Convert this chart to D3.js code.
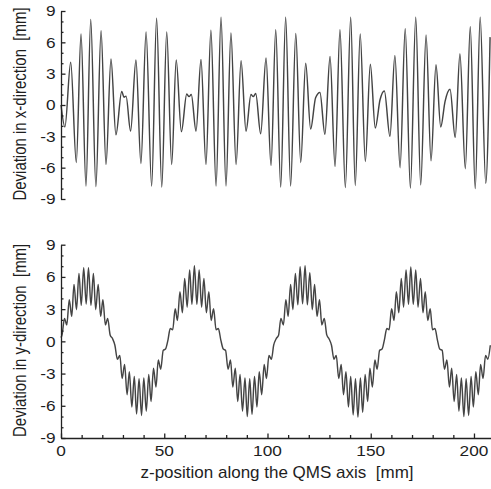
<!DOCTYPE html>
<html><head><meta charset="utf-8">
<script src="https://cdn.jsdelivr.net/npm/d3@7"></script>
<style>
body{margin:0;background:#fff}
svg{display:block}
text{font-family:"Liberation Sans",Arial,Helvetica,sans-serif;fill:#1e1e1e}
</style>
</head><body>
<svg id="c" width="491" height="489"></svg>
<script>
// ---- data ----
// top panel: deviation in x-direction (extrema along z, mm)
const topZ = [0,1.9,4.7,7.4,9.7,12.1,14.4,16.9,19.4,21.8,24.2,26.6,29.4,30.5,31.5,33.7,36.3,38.7,41.2,43.9,46.3,48.8,51.2,53.6,55.8,58.3,60.9,62.0,63.1,65.4,67.8,70.2,72.6,75.1,77.5,79.9,82.3,84.8,87.2,89.6,92.0,93.1,94.3,96.7,99.3,101.7,104.0,106.4,108.8,111.2,113.7,116.1,118.5,120.9,123.3,125.4,127.8,130.3,132.7,135.1,137.7,140.3,142.5,144.9,147.4,149.8,152.2,154.5,156.6,159.3,161.7,164.2,166.7,169.2,171.8,174.2,176.8,179.2,181.6,183.9,186.0,188.4,190.9,193.2,195.8,198.2,200.6,203.0,205.7,207.8];
const topV = [0.0,-2.1,4.1,-5.5,6.8,-7.75,8.2,-7.8,7.1,-5.7,4.4,-2.85,1.3,0.75,0.85,-2.5,4.3,-5.6,7.0,-7.75,8.3,-7.85,7.0,-5.7,4.3,-2.55,1.05,0.8,1.0,-2.5,4.35,-5.7,7.15,-7.75,8.4,-7.75,6.9,-5.7,4.25,-2.5,1.0,0.8,1.1,-2.75,4.5,-5.8,7.2,-7.85,8.4,-7.75,6.85,-5.5,4.0,-2.3,0.7,1.2,-2.8,4.65,-5.9,7.2,-7.9,8.4,-7.7,6.8,-5.4,3.9,-2.2,0.5,1.35,-3.0,4.75,-6.0,7.3,-7.95,8.4,-7.65,6.7,-5.35,3.85,-2.1,0.35,1.5,-3.1,4.9,-6.1,7.5,-8.0,8.4,-7.5,6.5];

// bottom panel: deviation in y-direction
const botZ = [0,0.5,1.7,2.8,4.0,5.2,6.3,7.5,8.7,9.8,11.0,12.2,13.3,14.5,15.7,16.8,18.0,19.2,20.3,21.5,22.6,23.8,25.0,26.1,27.3,28.5,29.6,30.8,32.0,33.1,34.3,35.5,36.6,37.8,39.0,40.1,41.3,42.5,43.6,44.8,46.0,47.1,48.3,49.5,50.6,51.8,52.9,54.1,55.3,56.4,57.6,58.8,59.9,61.1,62.3,63.4,64.6,65.8,66.9,68.1,69.2,70.4,71.6,72.7,73.9,75.1,76.2,77.4,78.6,79.7,80.9,82.1,83.2,84.4,85.6,86.7,87.9,89.1,90.2,91.4,92.5,93.7,94.9,96.0,97.2,98.4,99.5,100.7,101.9,103.0,104.2,105.4,106.5,107.7,108.9,110.0,111.2,112.3,113.5,114.7,115.8,117.0,118.2,119.3,120.5,121.7,122.8,124.0,125.2,126.3,127.5,128.7,129.8,131.0,132.2,133.3,134.5,135.7,136.8,138.0,139.2,140.3,141.5,142.6,143.8,145.0,146.1,147.3,148.5,149.6,150.8,152.0,153.1,154.3,155.5,156.6,157.8,158.9,160.1,161.3,162.4,163.6,164.8,165.9,167.1,168.3,169.4,170.6,171.8,172.9,174.1,175.3,176.4,177.6,178.8,179.9,181.1,182.3,183.4,184.6,185.7,186.9,188.1,189.2,190.4,191.6,192.7,193.9,195.1,196.2,197.4,198.6,199.7,200.9,202.1,203.2,204.4,205.6,206.7,207.9];
const botV = [0.35,
 0.60,2.14,1.53,3.87,2.33,5.30,2.95,6.32,3.35,6.85,3.48,6.85,3.35,6.32,2.95,5.30,2.33,3.87,1.53,2.14,0.60,0.24,-0.36,-1.67,-1.31,-3.46,-2.15,-4.97,-2.82,-6.11,-3.27,-6.76,-3.48,-6.90,-3.41,-6.50,-3.08,-5.60,-2.51,-4.26,-1.74,-2.59,-0.84,-0.72,0.12,
 1.20,1.08,3.03,1.95,4.63,2.67,5.86,3.18,6.65,3.45,7.05,3.45,6.65,3.18,5.86,2.67,4.63,1.95,3.03,1.08,1.20,0.12,-0.72,-0.84,-2.59,-1.74,-4.26,-2.51,-5.60,-3.08,-6.50,-3.41,-7.00,-3.48,-6.80,-3.27,-6.11,-2.82,-4.97,-2.15,-3.46,-1.31,-1.67,-0.36,0.24,
 0.60,2.14,1.53,3.87,2.33,5.30,2.95,6.32,3.40,6.95,3.50,7.05,3.40,6.40,2.95,5.30,2.33,3.87,1.53,2.14,0.60,0.24,-0.36,-1.67,-1.31,-3.46,-2.15,-4.97,-2.82,-6.11,-3.27,-6.85,-3.48,-7.05,-3.41,-6.60,-3.08,-5.60,-2.51,-4.26,-1.74,-2.59,-0.84,-0.72,0.12,
 1.20,1.08,3.03,1.95,4.63,2.67,5.86,3.18,6.65,3.45,6.92,3.45,6.65,3.18,5.86,2.67,4.63,1.95,3.03,1.08,1.20,0.12,-0.72,-0.84,-2.59,-1.74,-4.26,-2.51,-5.60,-3.08,-6.50,-3.41,-7.00,-3.48,-6.90,-3.27,-6.11,-2.82,-4.97,-2.15,-3.46,-1.31,-1.67,-0.36];

const yMajorTicks = [-9,-6,-3,0,3,6,9];
const yMinorTicks = [-8,-7,-5,-4,-2,-1,1,2,4,5,7,8];
const xMajorTicks = [0,50,100,150,200];
const xMinorTicks = [10,20,30,40,60,70,80,90,110,120,130,140,160,170,180,190];
const xTitle = "z-position along the QMS axis  [mm]";
const yTitles = ["Deviation in x-direction  [mm]", "Deviation in y-direction  [mm]"];

// ---- layout ----
const svg = d3.select("#c");
const x = d3.scaleLinear().domain([0, 208]).range([61, 490.5]);
const panels = [
  {z: topZ, v: topV, y: d3.scaleLinear().domain([-9, 9]).range([199, 11]), title: yTitles[0], xAxis: false},
  {z: botZ, v: botV, y: d3.scaleLinear().domain([-9, 9]).range([438, 244.7]), title: yTitles[1], xAxis: true}
];
const axisColor = "#222";

panels.forEach(p => {
  const g = svg.append("g");
  const pts = p.z.map((z, i) => [z, p.v[i]]);
  g.append("path")
    .datum(pts)
    .attr("fill", "none")
    .attr("stroke", "#444")
    .attr("stroke-width", 1.45)
    .attr("stroke-linejoin", "round")
    .attr("d", d3.line().x(d => x(d[0])).y(d => p.y(d[1])).curve(d3.curveMonotoneX));

  const ya = g.append("g").attr("transform", `translate(${x(0)},0)`)
    .call(d3.axisLeft(p.y).tickValues(yMajorTicks).tickSize(-4.5).tickSizeOuter(0).tickFormat(""));
  const ym = g.append("g").attr("transform", `translate(${x(0)},0)`)
    .call(d3.axisLeft(p.y).tickValues(yMinorTicks).tickSize(-2.5).tickSizeOuter(0).tickFormat(""));
  ym.select(".domain").remove();
  [ya, ym].forEach(a => a.selectAll("path,line").attr("stroke", axisColor).attr("stroke-width", 1.3));

  g.selectAll("text.ylab").data(yMajorTicks).join("text")
    .attr("class", "ylab")
    .attr("transform", d => `translate(55.5,${p.y(d)}) scale(1.15,1)`)
    .attr("dy", "0.36em")
    .attr("text-anchor", "end")
    .style("font-size", "15px")
    .text(d => d < 0 ? "-" + Math.abs(d) : String(d));

  const [r0, r1] = p.y.range();
  g.append("text")
    .attr("transform", `translate(26,${(r0 + r1) / 2 - 1}) rotate(-90) scale(1,1.18)`)
    .attr("text-anchor", "middle")
    .style("font-size", "15px")
    .style("white-space", "pre")
    .text(p.title);

  if (p.xAxis) {
    const xa = g.append("g").attr("transform", `translate(0,${p.y(-9)})`)
      .call(d3.axisBottom(x).tickValues(xMajorTicks).tickSize(-4.5).tickSizeOuter(0).tickFormat(""));
    const xm = g.append("g").attr("transform", `translate(0,${p.y(-9)})`)
      .call(d3.axisBottom(x).tickValues(xMinorTicks).tickSize(-3).tickSizeOuter(0).tickFormat(""));
    xm.select(".domain").remove();
    [xa, xm].forEach(a => a.selectAll("path,line").attr("stroke", axisColor).attr("stroke-width", 1.3));

    g.selectAll("text.xlab").data(xMajorTicks).join("text")
      .attr("class", "xlab")
      .attr("transform", d => `translate(${x(d)},455.5) scale(1.15,1)`)
      .attr("text-anchor", "middle")
      .style("font-size", "15px")
      .text(d => String(d));

    g.append("text")
      .attr("x", 277).attr("y", 477.5)
      .attr("text-anchor", "middle")
      .style("font-size", "17px")
      .style("white-space", "pre")
      .text(xTitle);
  }
});
</script>
</body></html>
